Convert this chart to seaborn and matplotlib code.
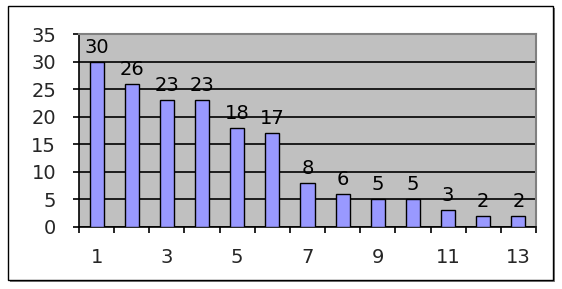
import matplotlib
matplotlib.use("Agg")
import matplotlib.pyplot as plt
import seaborn as sns
import pandas as pd
from matplotlib.patches import Rectangle

categories = [str(i) for i in range(1, 14)]
values = [30, 26, 23, 23, 18, 17, 8, 6, 5, 5, 3, 2, 2]
y_ticks = [0, 5, 10, 15, 20, 25, 30, 35]
x_labels = ["1", "3", "5", "7", "9", "11", "13"]

sns.set_style("white", {"xtick.bottom": True, "ytick.left": True})
plt.rcParams['font.family'] = ['DejaVu Sans']
plt.rcParams['xtick.bottom'] = True
plt.rcParams['ytick.left'] = True
plt.rcParams['xtick.minor.bottom'] = True
plt.rcParams['xtick.minor.visible'] = True

df = pd.DataFrame({"cat": categories, "val": values})

FS = 14

fig = plt.figure(figsize=(5.62, 2.89), dpi=100)
# outer frame with shadow
fig.patches.append(Rectangle((10/562, 1-282/289), 545/562, 274/289, transform=fig.transFigure,
                             facecolor="#808080", edgecolor="none", zorder=-3))
fig.patches.append(Rectangle((8/562, 1-280/289), 545/562, 274/289, transform=fig.transFigure,
                             facecolor="white", edgecolor="black", linewidth=1, zorder=-2))

ax = fig.add_axes([79/562, 1-227/289, 457/562, 193/289])
ax.set_facecolor("#C0C0C0")
sns.barplot(data=df, x="cat", y="val", ax=ax, color="#9999FF", width=0.4,
            edgecolor="black", linewidth=1, saturation=1, zorder=3)
ax.set_xlim(-0.5, 12.5)
ax.set_ylim(0, 35)
ax.set_yticks(y_ticks)
ax.set_yticklabels([str(v) for v in y_ticks], fontsize=FS)
ax.yaxis.grid(True, color="black", linewidth=1.2, zorder=1)
ax.set_axisbelow(True)

ax.set_xticks(range(0, 13, 2))
ax.set_xticklabels(x_labels, fontsize=FS)
ax.set_xticks([i - 0.5 for i in range(14)], minor=True)
ax.tick_params(axis="x", which="major", bottom=True, length=0, pad=15)
ax.tick_params(axis="x", which="minor", bottom=True, length=4.5, width=1.2, color="black", direction="out")
ax.tick_params(axis="y", which="major", left=True, length=4.5, width=1.2, color="black", direction="out", pad=12)
ax.tick_params(axis="y", which="minor", left=False)
ax.set_xlabel("")
ax.set_ylabel("")

for side in ["top", "right"]:
    ax.spines[side].set_color("#808080")
    ax.spines[side].set_linewidth(1.5)
for side in ["left", "bottom"]:
    ax.spines[side].set_color("black")
    ax.spines[side].set_linewidth(1.2)

for i, v in enumerate(values):
    ax.text(i, v + 0.9, str(v), ha="center", va="bottom", fontsize=FS, color="black", zorder=5)

fig.savefig("out.png", dpi=100)
